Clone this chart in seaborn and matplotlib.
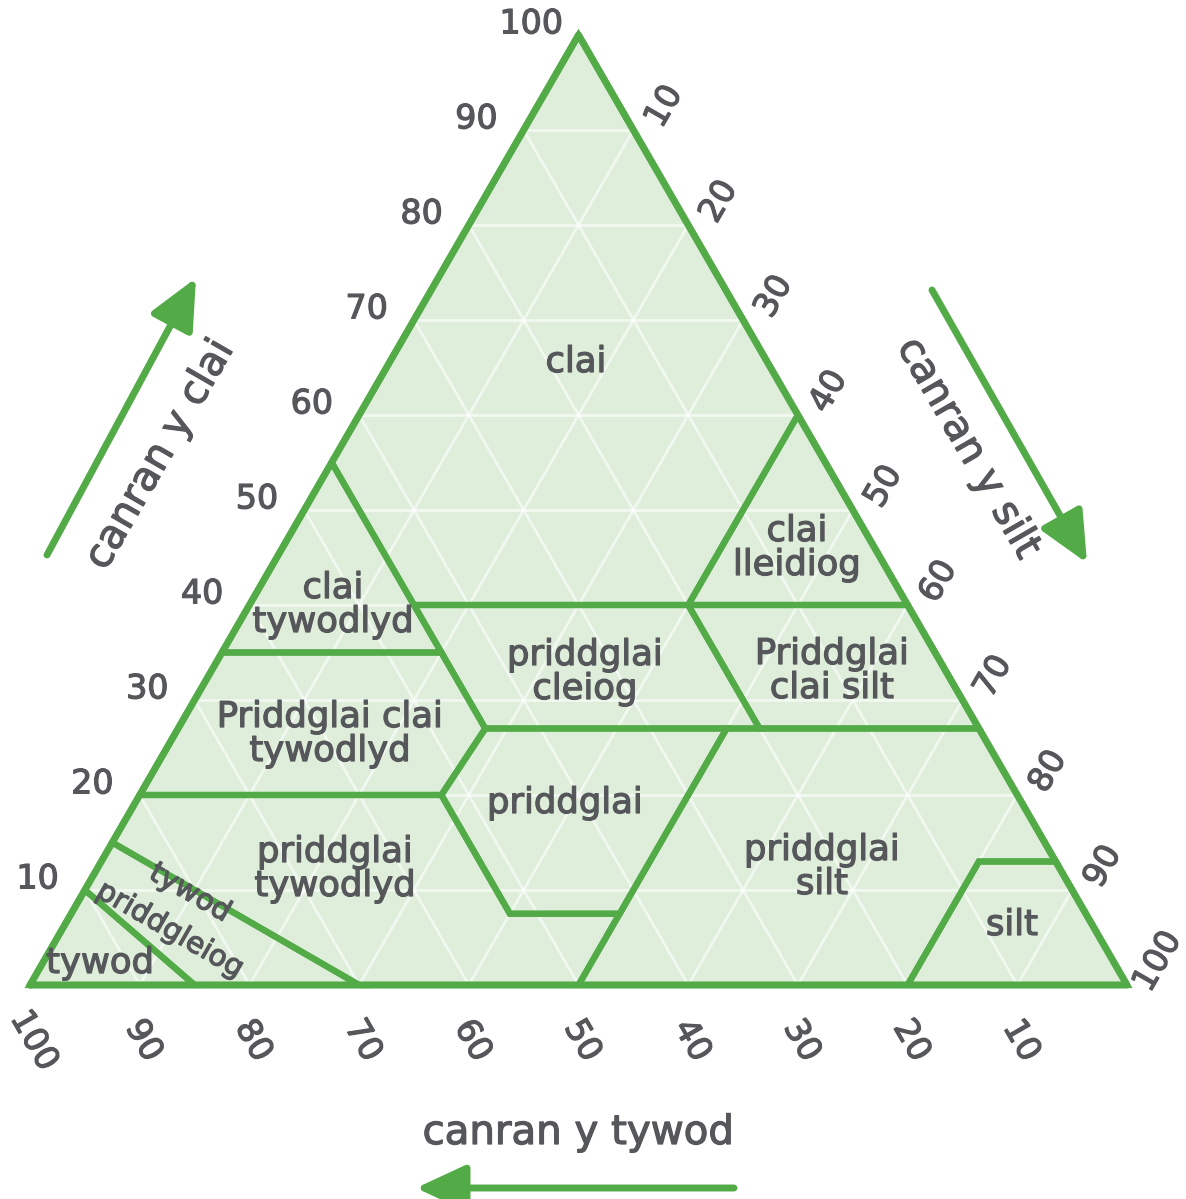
import numpy as np
import pandas as pd
import matplotlib
matplotlib.use("Agg")
import matplotlib.pyplot as plt
import matplotlib.patheffects as pe
import seaborn as sns

# ---------------- data ----------------
# each region: polygon vertices as (sand %, clay %) ; silt = 100 - sand - clay
region_names = ["clai", "clai lleidiog", "clai tywodlyd", "priddglai cleiog",
                "Priddglai clai silt", "Priddglai clai tywodlyd", "priddglai",
                "priddglai tywodlyd", "priddglai silt", "silt", "tywod priddgleiog", "tywod"]
clay_poly = [(45, 55), (0, 100), (0, 60), (20, 40), (45, 40)]
silty_clay_poly = [(20, 40), (0, 60), (0, 40)]
sandy_clay_poly = [(65, 35), (45, 55), (45, 35)]
clay_loam_poly = [(45, 40), (20, 40), (20, 27), (45, 27), (45, 35)]
silty_clay_loam_poly = [(20, 40), (0, 40), (0, 27), (20, 27)]
sandy_clay_loam_poly = [(80, 20), (65, 35), (45, 35), (45, 27), (52.5, 20)]
loam_poly = [(45, 27), (23, 27), (42.5, 7.5), (52.5, 7.5), (52.5, 20)]
sandy_loam_poly = [(80, 20), (52.5, 20), (52.5, 7.5), (42.5, 7.5), (50, 0), (70, 0), (85, 15)]
silt_loam_poly = [(23, 27), (0, 27), (0, 13), (7, 13), (20, 0), (50, 0)]
silt_poly = [(20, 0), (0, 0), (0, 13), (7, 13)]
loamy_sand_poly = [(85, 15), (70, 0), (85, 0), (90, 10)]
sand_poly = [(90, 10), (85, 0), (100, 0)]
polygons = [clay_poly, silty_clay_poly, sandy_clay_poly, clay_loam_poly,
            silty_clay_loam_poly, sandy_clay_loam_poly, loam_poly, sandy_loam_poly,
            silt_loam_poly, silt_poly, loamy_sand_poly, sand_poly]

tick_values = [10, 20, 30, 40, 50, 60, 70, 80, 90, 100]
clay_ticks = tick_values
silt_ticks = tick_values
sand_ticks = tick_values
grid_values = [10, 20, 30, 40, 50, 60, 70, 80, 90]

# ---------------- style ----------------
sns.set_theme(style="white")
plt.rcParams['font.family'] = ['DejaVu Sans']
GREEN = "#52ab47"
FILL = "#deeedb"
TEXT = "#56575a"
H = np.sqrt(3) / 2
BOLDEN = [pe.withStroke(linewidth=0.9, foreground=TEXT)]


def xy(sand, clay):
    silt = 100 - sand - clay
    return silt + clay / 2.0, clay * H


def px(x, y):
    # pixel position in the picture -> data coords
    return (x - 30) / 10.97, (985 - y) / 10.97


fig = plt.figure(figsize=(11.86, 11.99), dpi=100)
ax = fig.add_axes([0, 0, 1, 1])
ax.set_xlim(-30 / 10.97, (1186 - 30) / 10.97)
ax.set_ylim(-(1199 - 985) / 10.97, 985 / 10.97)
ax.set_aspect("equal")
ax.axis("off")

# background triangle
tri = [xy(100, 0), xy(0, 0), xy(0, 100)]
ax.fill([p[0] for p in tri], [p[1] for p in tri], color=FILL, zorder=1, lw=0)

# grid lines (white)
for v in grid_values:
    a, b = xy(100 - v, v), xy(0, v)
    ax.plot([a[0], b[0]], [a[1], b[1]], color="white", alpha=0.6, lw=2, zorder=2)
    a, b = xy(v, 0), xy(v, 100 - v)
    ax.plot([a[0], b[0]], [a[1], b[1]], color="white", alpha=0.6, lw=2, zorder=2)
    a, b = xy(100 - v, 0), xy(0, 100 - v)
    ax.plot([a[0], b[0]], [a[1], b[1]], color="white", alpha=0.6, lw=2, zorder=2)

# region boundaries via seaborn
for i, poly in enumerate(polygons):
    pts = poly + [poly[0]]
    df = pd.DataFrame({"x": [xy(s, c)[0] for s, c in pts],
                       "y": [xy(s, c)[1] for s, c in pts]})
    sns.lineplot(data=df, x="x", y="y", sort=False, estimator=None, color=GREEN,
                 lw=4.5, ax=ax, zorder=3, solid_joinstyle="miter")

# outer border
bd = tri + [tri[0]]
ax.plot([p[0] for p in bd], [p[1] for p in bd], color=GREEN, lw=5, zorder=4,
        solid_joinstyle="round", solid_capstyle="round")

# tick labels
tfs = 24
for c in clay_ticks:
    x0, y0 = xy(100 - c, c)
    ax.annotate(str(c), (x0, y0), xytext=(-34, 8), textcoords="offset points",
                ha="center", va="center", fontsize=tfs, color=TEXT, path_effects=BOLDEN)
for s in silt_ticks:
    x0, y0 = xy(0, 100 - s)
    ax.annotate(str(s), (x0, y0), xytext=(22, 17), textcoords="offset points",
                ha="center", va="center", fontsize=tfs, color=TEXT, rotation=60,
                path_effects=BOLDEN)
for s in sand_ticks:
    x0, y0 = xy(s, 0)
    ax.annotate(str(s), (x0, y0), xytext=(3, -40), textcoords="offset points",
                ha="center", va="center", fontsize=tfs, color=TEXT, rotation=-60,
                path_effects=BOLDEN)

# region labels
lfs = 25.5
labels = [
    ("clai", 576, 362),
    ("clai\nlleidiog", 797, 548),
    ("clai\ntywodlyd", 333, 605),
    ("priddglai\ncleiog", 585, 672),
    ("Priddglai\nclai silt", 832, 671),
    ("Priddglai clai\ntywodlyd", 330, 734),
    ("priddglai", 565, 803),
    ("priddglai\ntywodlyd", 335, 869),
    ("priddglai\nsilt", 822, 867),
    ("silt", 1012, 925),
    ("tywod", 100, 963),
]
for t, x, y in labels:
    X, Y = px(x, y)
    ax.text(X, Y, t, ha="center", va="center", fontsize=lfs, color=TEXT,
            linespacing=1.0, zorder=5, path_effects=BOLDEN)
X, Y = px(190, 893)
ax.text(X, Y, "tywod", ha="center", va="center", fontsize=21, color=TEXT, rotation=-30,
        zorder=5, path_effects=BOLDEN)
X, Y = px(170, 930)
ax.text(X, Y, "priddgleiog", ha="center", va="center", fontsize=21, color=TEXT, rotation=-30,
        zorder=5, path_effects=BOLDEN)

# axis titles
afs = 29
X, Y = px(160, 455)
ax.text(X, Y, "canran y clai", ha="center", va="center", fontsize=afs, color=TEXT,
        rotation=60, path_effects=BOLDEN)
X, Y = px(968, 448)
ax.text(X, Y, "canran y silt", ha="center", va="center", fontsize=afs, color=TEXT,
        rotation=-60, path_effects=BOLDEN)
X, Y = px(578, 1133)
ax.text(X, Y, "canran y tywod", ha="center", va="center", fontsize=afs, color=TEXT,
        path_effects=BOLDEN)

# arrows
arrow_kw = dict(arrowstyle="-|>,head_length=1.4,head_width=0.65", color=GREEN, lw=5,
                mutation_scale=22, shrinkA=0, shrinkB=0)
for (x1, y1), (x2, y2) in [((47, 555), (196, 278)), ((932, 290), (1087, 563)),
                           ((734, 1188), (416, 1188))]:
    ax.annotate("", xy=px(x2, y2), xytext=px(x1, y1), arrowprops=arrow_kw)

fig.savefig("out.png", dpi=100)
